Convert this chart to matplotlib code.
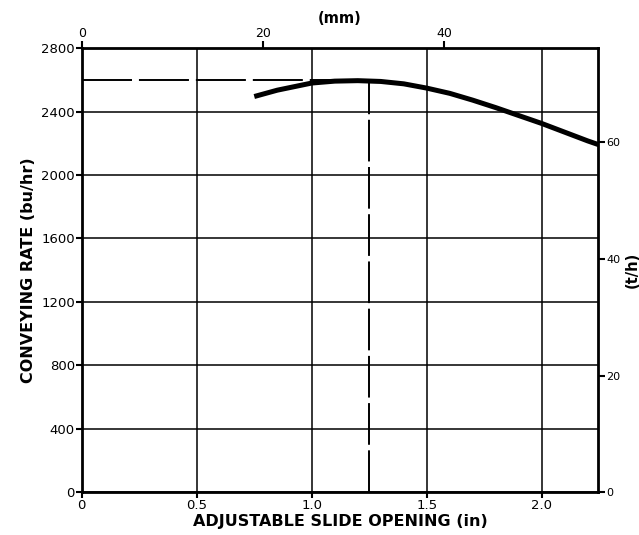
import matplotlib
matplotlib.use("Agg")
import matplotlib.pyplot as plt
import numpy as np

# ---------------------------------------------------------------------------
# Data
# ---------------------------------------------------------------------------

opening_in = [0.75, 0.85, 1.0, 1.1, 1.2, 1.3, 1.4, 1.5, 1.6, 1.7, 1.8, 1.9, 2.0, 2.1, 2.2, 2.25]
rate_bu_hr = [2495, 2535, 2580, 2592, 2595, 2590, 2575, 2548, 2515, 2472, 2425, 2375, 2325, 2270, 2215, 2190]

design_rate = 2600        # dashed horizontal reference
design_opening = 1.25     # dashed vertical reference

x_ticks = [0, 0.5, 1.0, 1.5, 2.0]
x_tick_labels = ["0", "0.5", "1.0", "1.5", "2.0"]
y_ticks = [0, 400, 800, 1200, 1600, 2000, 2400, 2800]
mm_ticks = [0, 20, 40]
th_ticks = [0, 20, 40, 60]

MM_PER_IN = 25.4
TH_PER_BU_HR = 0.0272     # wheat, t/h per bu/hr

# ---------------------------------------------------------------------------
# Plot
# ---------------------------------------------------------------------------

plt.rcParams.update({
    "font.family": "DejaVu Sans",
    "lines.scale_dashes": False,
})

fig = plt.figure(figsize=(6.39, 5.35), dpi=100)
ax = fig.add_axes([0.128, 0.080, 0.808, 0.830])

ax.set_xlim(0, 2.245)
ax.set_ylim(0, 2800)

ax.set_xticks(x_ticks)
ax.set_xticklabels(x_tick_labels)
ax.set_yticks(y_ticks)
ax.grid(True, color="black", linewidth=1.1)
ax.set_axisbelow(True)

for side in ["left", "right", "top", "bottom"]:
    ax.spines[side].set_linewidth(2.0)
ax.tick_params(direction="out", length=4, width=1.5, labelsize=9.5, pad=1)

# reference lines
ax.plot([0, design_opening], [design_rate, design_rate], color="black",
        linewidth=1.4, dashes=(36, 5))
ax.plot([design_opening, design_opening], [0, design_rate], color="black",
        linewidth=1.4, dashes=(30, 4))

# performance curve
ax.plot(opening_in, rate_bu_hr, color="black", linewidth=3.6,
        solid_capstyle="butt", zorder=5)

ax.set_xlabel("ADJUSTABLE SLIDE OPENING (in)", fontsize=11.5, fontweight="bold", labelpad=1)
ax.set_ylabel("CONVEYING RATE (bu/hr)", fontsize=11.5, fontweight="bold", labelpad=4)

# secondary metric axes
top = ax.secondary_xaxis("top", functions=(lambda x: x * MM_PER_IN, lambda m: m / MM_PER_IN))
top.set_xticks(mm_ticks)
top.tick_params(direction="out", length=5, width=1.5, labelsize=9, pad=1)
top.set_xlabel("(mm)", fontsize=10.5, fontweight="bold", labelpad=3)

right = ax.secondary_yaxis("right", functions=(lambda y: y * TH_PER_BU_HR, lambda t: t / TH_PER_BU_HR))
right.set_yticks(th_ticks)
right.tick_params(direction="out", length=5, width=1.5, labelsize=8, pad=1)
right.set_ylabel("(t/h)", fontsize=10.5, fontweight="bold", labelpad=3)

fig.savefig("out.png", dpi=100)
plt.close(fig)
